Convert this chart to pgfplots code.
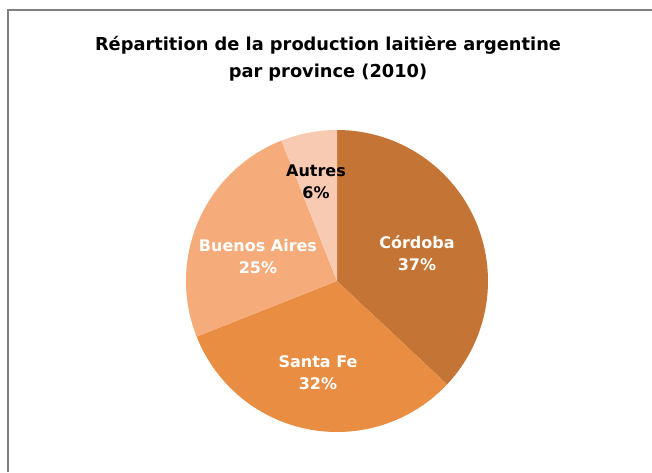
\documentclass[border=0pt]{standalone}
\usepackage{fontspec}
\setmainfont{DejaVu Sans}
\usepackage{pgfplots}
\pgfplotsset{compat=1.18}

\definecolor{cCordoba}{RGB}{196,116,52}
\definecolor{cSantaFe}{RGB}{232,141,66}
\definecolor{cBuenos}{RGB}{245,171,122}
\definecolor{cAutres}{RGB}{249,202,178}
\definecolor{cFrame}{RGB}{128,128,128}

% parts (%), clockwise from 12 o'clock
\def\vCordoba{37}
\def\vSantaFe{32}
\def\vBuenos{25}
\def\vAutres{6}

\begin{document}
\begin{tikzpicture}
\pgfmathsetmacro\aA{90}
\pgfmathsetmacro\aB{\aA-3.6*\vCordoba}
\pgfmathsetmacro\aC{\aB-3.6*\vSantaFe}
\pgfmathsetmacro\aD{\aC-3.6*\vBuenos}
\pgfmathsetmacro\aE{\aD-3.6*\vAutres}
\begin{axis}[
    hide axis,
    scale only axis,
    width=652pt, height=472pt,
    xmin=0, xmax=652, ymin=0, ymax=472,
    clip=true,
]
% keep the whole chart area as the picture's size
\path (0,0) rectangle (652,472);

\addplot[draw=none, fill=cCordoba, domain=\aB:\aA, samples=80]
    ({337+151*cos(x)},{191+151*sin(x)}) -- (337,191) -- cycle;
\addplot[draw=none, fill=cSantaFe, domain=\aC:\aB, samples=80]
    ({337+151*cos(x)},{191+151*sin(x)}) -- (337,191) -- cycle;
\addplot[draw=none, fill=cBuenos, domain=\aD:\aC, samples=80]
    ({337+151*cos(x)},{191+151*sin(x)}) -- (337,191) -- cycle;
\addplot[draw=none, fill=cAutres, domain=\aE:\aD, samples=30]
    ({337+151*cos(x)},{191+151*sin(x)}) -- (337,191) -- cycle;

% frame of the chart area (only top and left edges are in view)
\draw[cFrame, line width=2pt] (8,0) -- (8,462) -- (652,462);

% title
\node[font=\bfseries\fontsize{17.8}{27}\selectfont, align=center] at (328,413)
    {Répartition de la production laitière argentine\\par province (2010)};

% slice labels
\tikzset{lbl/.style={font=\bfseries\fontsize{16}{22}\selectfont, align=center}}
\node[lbl, white] at (417,219) {Córdoba\\\vCordoba\%};
\node[lbl, white] at (318,99) {Santa Fe\\\vSantaFe\%};
\node[lbl, white] at (258,215) {Buenos Aires\\\vBuenos\%};
\node[lbl, black] at (316,290) {Autres\\\vAutres\%};
\end{axis}
\end{tikzpicture}
\end{document}
